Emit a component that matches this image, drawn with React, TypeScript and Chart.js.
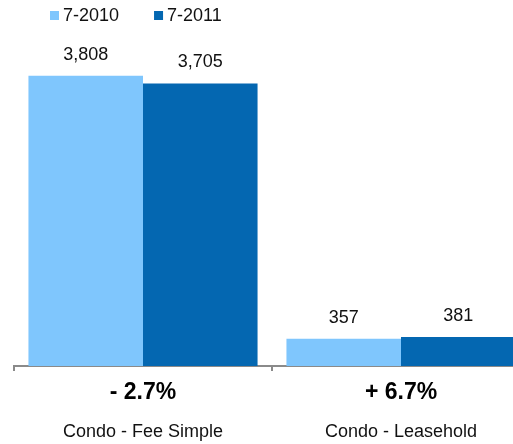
import React, { useEffect, useRef } from "react";
import { Chart, registerables } from "chart.js";

Chart.register(...registerables);

const categories = ["Condo - Fee Simple", "Condo - Leasehold"];
const changeLabels = ["- 2.7%", "+ 6.7%"];
const seriesNames = ["7-2010", "7-2011"];
const values2010 = [3808, 357];
const values2011 = [3705, 381];
const colors = ["#7FC6FD", "#0467B1"];

const FONT = "'Liberation Sans', Arial, Helvetica, sans-serif";

const customLegend = {
  id: "customLegend",
  afterDraw(chart: any) {
    const ctx = chart.ctx;
    ctx.save();
    ctx.font = `18px ${FONT}`;
    ctx.textBaseline = "middle";
    ctx.textAlign = "left";
    let x = 50;
    chart.data.datasets.forEach((ds: any) => {
      ctx.fillStyle = ds.backgroundColor;
      ctx.fillRect(x, 11, 9, 9);
      ctx.fillStyle = "#111";
      ctx.fillText(ds.label, x + 13, 16);
      x += 13 + ctx.measureText(ds.label).width + 35;
    });
    ctx.restore();
  },
};

const valueLabels = {
  id: "valueLabels",
  afterDatasetsDraw(chart: any) {
    const ctx = chart.ctx;
    ctx.save();
    ctx.font = `18px ${FONT}`;
    ctx.fillStyle = "#111";
    ctx.textAlign = "center";
    ctx.textBaseline = "middle";
    chart.data.datasets.forEach((ds: any, i: number) => {
      const meta = chart.getDatasetMeta(i);
      meta.data.forEach((el: any, j: number) => {
        const v = ds.data[j];
        ctx.fillText(v.toLocaleString("en-US"), el.x, el.y - 21);
      });
    });
    ctx.restore();
  },
};

export default function App() {
  const ref = useRef<HTMLCanvasElement | null>(null);
  useEffect(() => {
    if (!ref.current) return;
    const chart = new Chart(ref.current, {
      type: "bar",
      data: {
        labels: categories,
        datasets: [
          {
            label: seriesNames[0],
            data: values2010,
            backgroundColor: colors[0],
            categoryPercentage: 0.888,
            barPercentage: 1,
          },
          {
            label: seriesNames[1],
            data: values2011,
            backgroundColor: colors[1],
            categoryPercentage: 0.888,
            barPercentage: 1,
          },
        ],
      },
      options: {
        animation: false,
        responsive: false,
        devicePixelRatio: 1,
        layout: { padding: { top: 61, left: 14, right: 10, bottom: 3 } },
        plugins: {
          legend: { display: false },
          tooltip: { enabled: false },
        },
        scales: {
          y: { display: false, min: 0, max: 4000 },
          x: {
            type: "category",
            labels: changeLabels,
            offset: true,
            afterFit: (s: any) => {
              s.height = 36;
            },
            grid: {
              display: true,
              drawOnChartArea: false,
              drawTicks: true,
              tickLength: 5,
              color: "#8a8a8a",
              lineWidth: 2,
            },
            border: { display: true, color: "#8a8a8a", width: 2 },
            ticks: {
              padding: 8,
              color: "#000",
              font: { family: FONT, size: 23, weight: "bold" },
              maxRotation: 0,
            },
          },
          x2: {
            type: "category",
            position: "bottom",
            labels: categories,
            offset: true,
            afterFit: (s: any) => {
              s.height = 39;
            },
            grid: { display: false, drawTicks: false },
            border: { display: false },
            ticks: {
              padding: 19,
              color: "#111",
              font: { family: FONT, size: 18 },
              maxRotation: 0,
            },
          },
        },
      },
      plugins: [customLegend, valueLabels],
    } as any);
    return () => chart.destroy();
  }, []);
  return (
    <div
      style={{
        position: "fixed",
        left: 0,
        top: 0,
        width: 513,
        height: 444,
        overflow: "hidden",
        background: "#fff",
      }}
    >
      <canvas ref={ref} width={540} height={444} style={{ display: "block" }} />
    </div>
  );
}
